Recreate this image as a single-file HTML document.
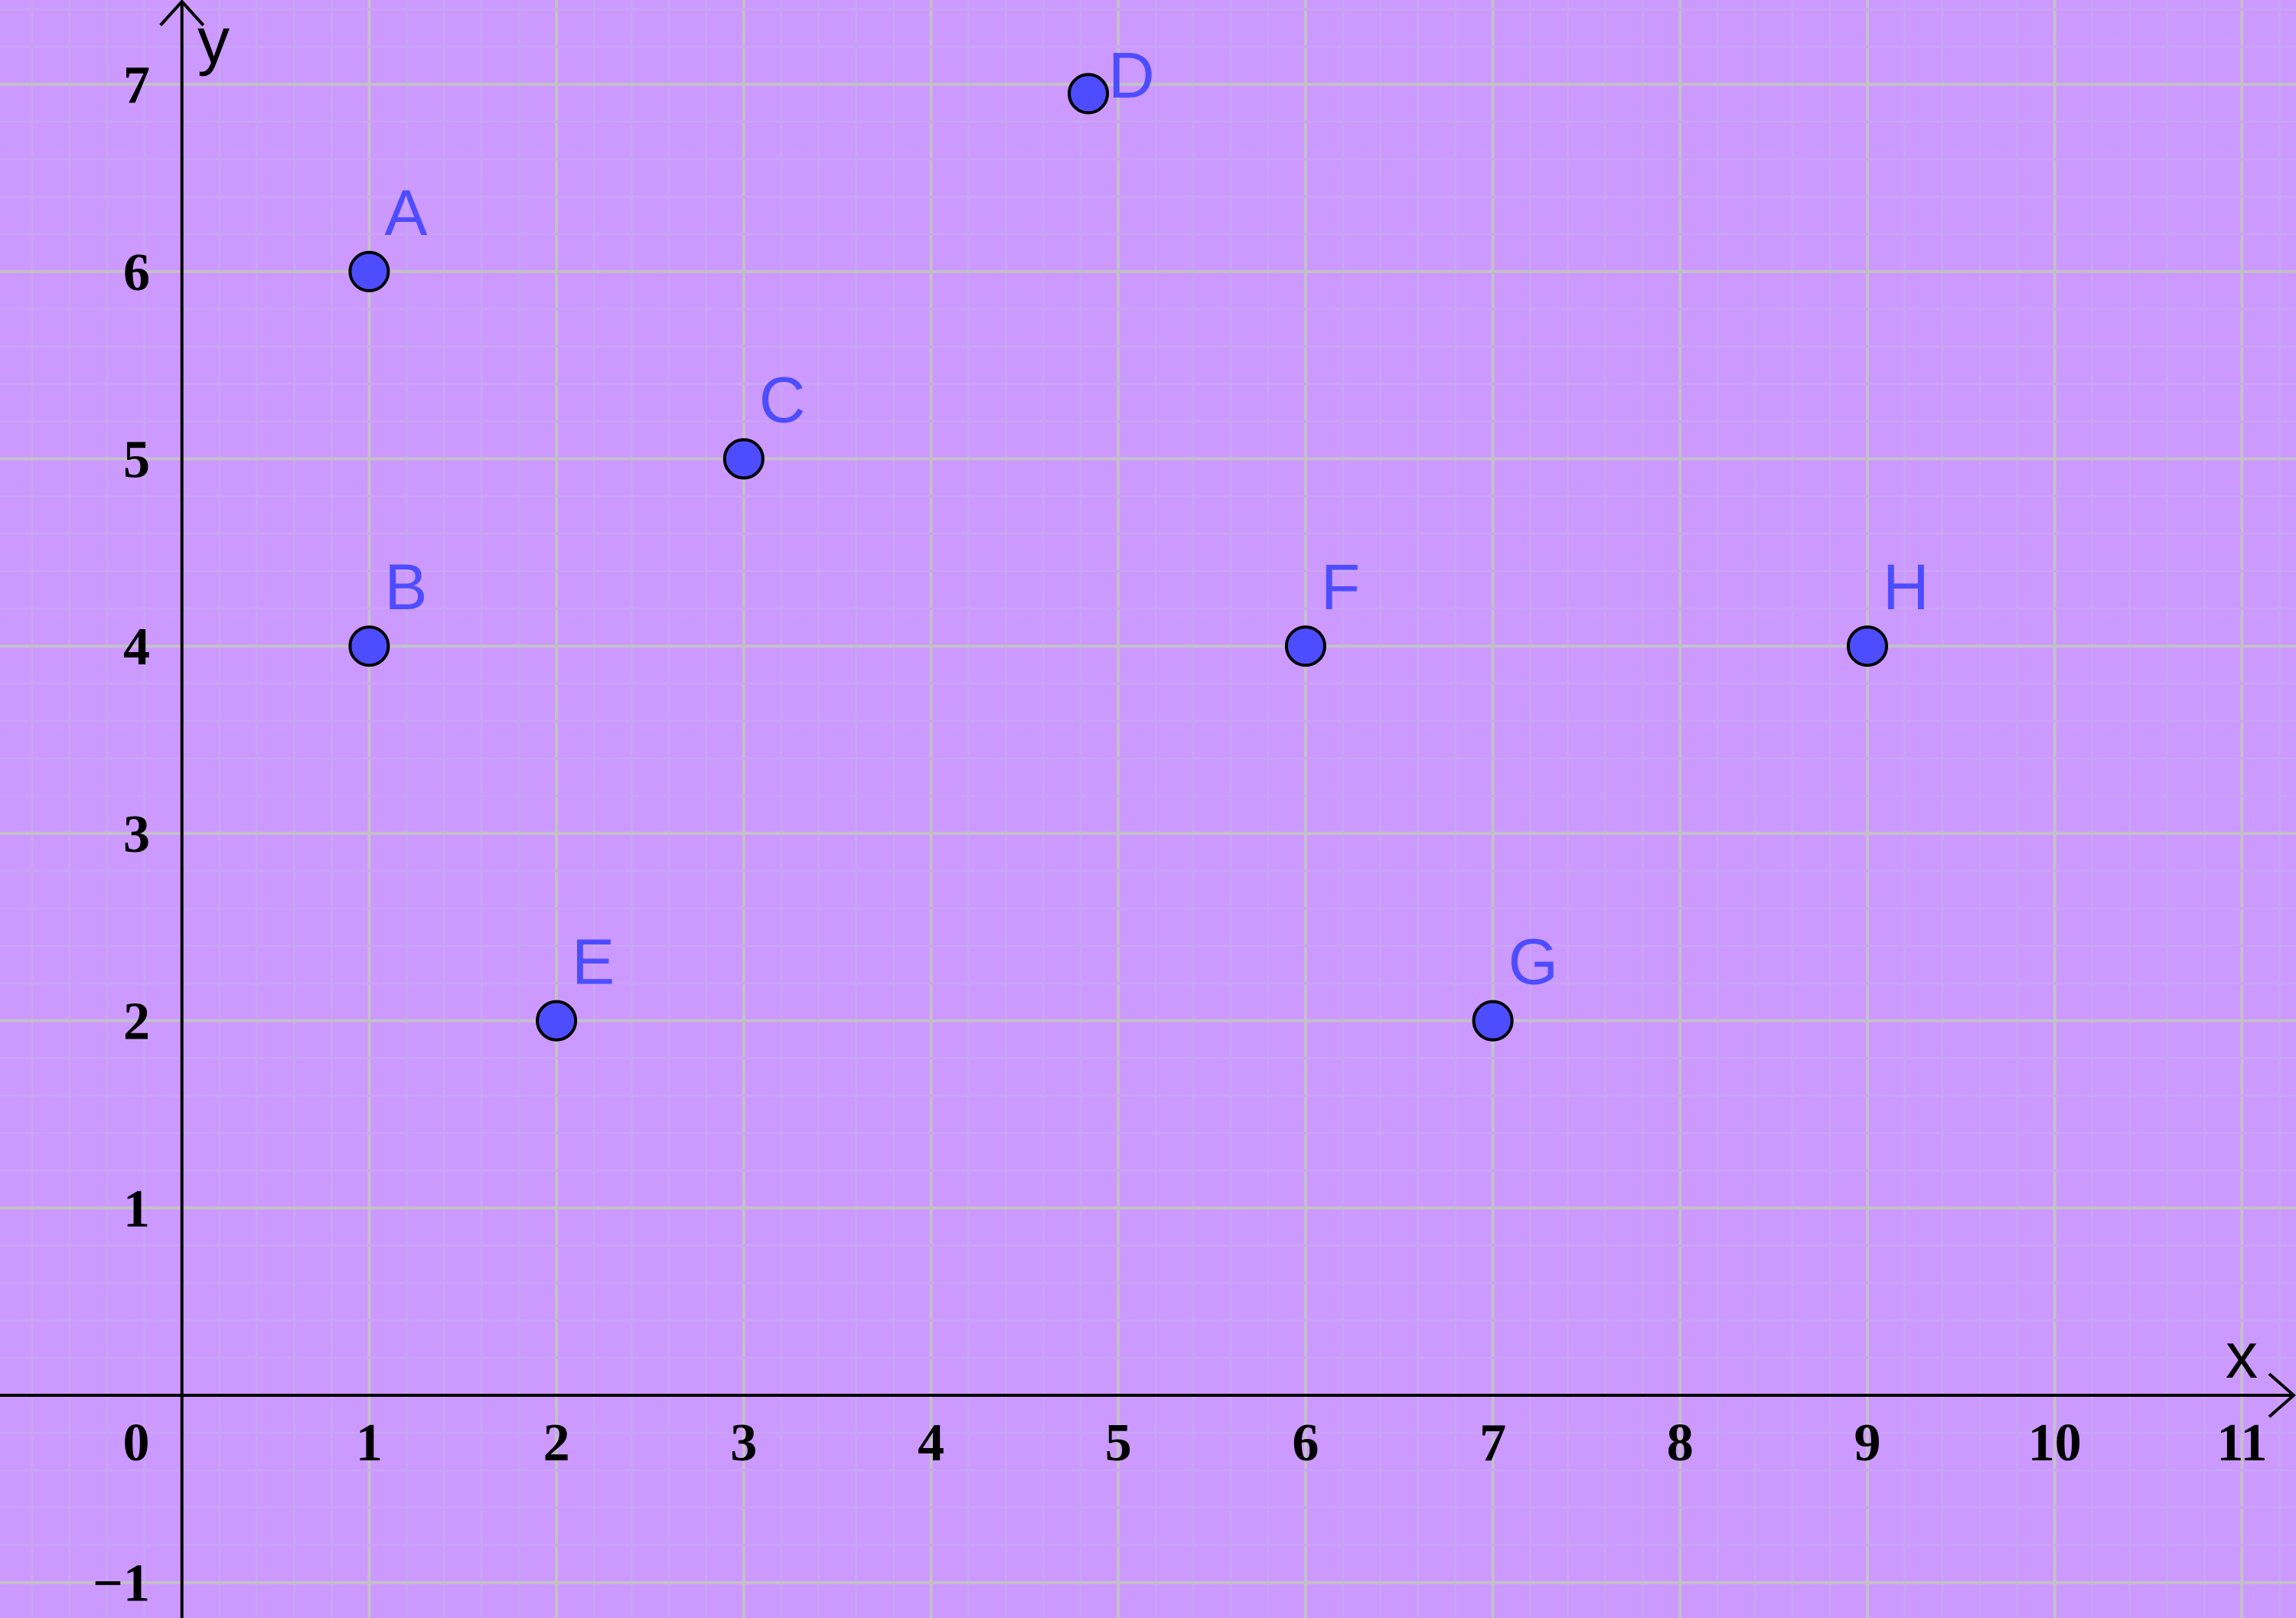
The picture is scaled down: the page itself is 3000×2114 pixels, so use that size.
<!DOCTYPE html>
<html><head><meta charset="utf-8"><style>html,body{margin:0;padding:0;background:#cc99ff;}svg{display:block;}</style></head>
<body>
<svg id="chart" width="3000" height="2114" viewBox="0 0 3000 2114" xmlns="http://www.w3.org/2000/svg">
<rect x="0" y="0" width="3000" height="2114" fill="#cc99ff"/>
<g id="grid"></g><g id="axes"></g><g id="ticks"></g><g id="points"></g>
</svg>
<script>
const pointNames = ["A","B","C","D","E","F","G","H"];
const pointX = [1,1,3,4.84,2,6,7,9];
const pointY = [6,4,5,6.95,2,4,2,4];
const xTicks = [0,1,2,3,4,5,6,7,8,9,10,11];
const yTicks = [-1,1,2,3,4,5,6,7];
const xTickLabels = ["0","1","2","3","4","5","6","7","8","9","10","11"];
const yTickLabels = ["\u22121","1","2","3","4","5","6","7"];

const NS="http://www.w3.org/2000/svg";
const U=244.7, OX=237.7, OY=1823;
const sx=v=>OX+v*U, sy=v=>OY-v*U;
function mk(tag,attrs,parent){const e=document.createElementNS(NS,tag);for(const k in attrs)e.setAttribute(k,attrs[k]);parent.appendChild(e);return e;}
const grid=document.getElementById('grid'),axes=document.getElementById('axes'),ticks=document.getElementById('ticks'),pts=document.getElementById('points');
for(let i=-5;i<=60;i++){const x=sx(i/5);if(x<0||x>3000)continue;
 const l=mk('line',{x1:x,y1:0,x2:x,y2:2114,stroke:i%5===0?'#c4c0c8':'#caa4f6','stroke-width':i%5===0?4:3},grid);
 
 }
for(let i=-7;i<=40;i++){const y=sy(i/5);if(y<0||y>2114)continue;
 const l=mk('line',{x1:0,y1:y,x2:3000,y2:y,stroke:i%5===0?'#c4c0c8':'#caa4f6','stroke-width':i%5===0?4:3},grid);
 
 }
let a=mk('path',{d:`M0 ${OY} H2995 M2965 ${OY-28} L2997 ${OY} L2965 ${OY+28}`,stroke:'#000','stroke-width':4,fill:'none'},axes);

a=mk('path',{d:`M${OX} 2114 V3 M${OX-28} 33 L${OX} 2 L${OX+28} 33`,stroke:'#000','stroke-width':4,fill:'none'},axes);

let t=mk('text',{x:2908,y:1800,'font-family':'Liberation Sans, sans-serif','font-size':84,fill:'#000'},axes);t.textContent='x';

t=mk('text',{x:258,y:82,'font-family':'Liberation Sans, sans-serif','font-size':84,fill:'#000'},axes);t.textContent='y';

xTicks.forEach((v,i)=>{const e=mk('text',{x:v===0?178:sx(v),y:1908,'text-anchor':'middle','font-family':'Liberation Serif, serif','font-weight':'bold','font-size':70,fill:'#000'},ticks);
 e.textContent=xTickLabels[i];});
yTicks.forEach((v,i)=>{const e=mk('text',{x:196,y:sy(v)+24,'text-anchor':'end','font-family':'Liberation Serif, serif','font-weight':'bold','font-size':70,fill:'#000'},ticks);
 e.textContent=yTickLabels[i];});
pointNames.forEach((n,i)=>{const cx=sx(pointX[i]),cy=sy(pointY[i]);
 const c=mk('circle',{cx:cx,cy:cy,r:25,fill:'#4d4dff',stroke:'#000','stroke-width':4},pts);
 
 const dx=n==='D'?26:20,dy=n==='D'?5:-48;
 const l=mk('text',{x:cx+dx,y:cy+dy,'font-family':'Liberation Sans, sans-serif','font-size':84,fill:'#4d4dff'},pts);
 l.textContent=n;});
</script>
</body></html>
